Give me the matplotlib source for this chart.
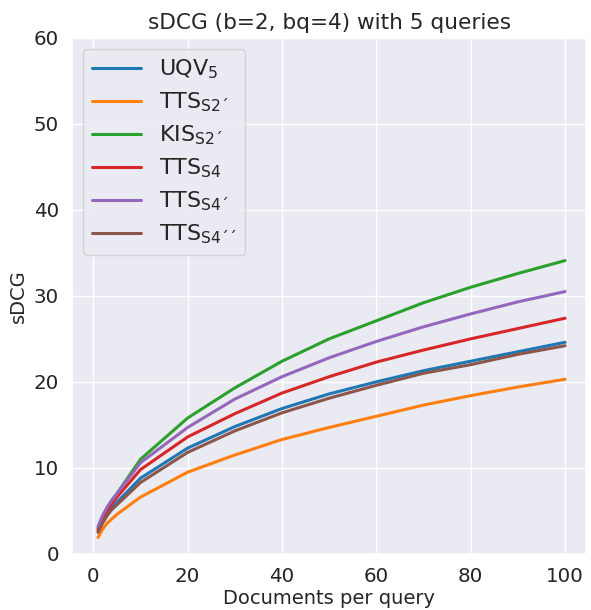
import matplotlib
matplotlib.use("Agg")
import matplotlib.pyplot as plt
import seaborn as sns

sns.set_theme(style="darkgrid", palette="tab10", font_scale=1.3)

docs = [1, 2, 3, 4, 5, 10, 20, 30, 40, 50, 60, 70, 80, 90, 100]

uqv5 = [2.6, 3.8, 4.7, 5.4, 6.0, 8.8, 12.3, 14.8, 16.9, 18.6, 20.0, 21.3, 22.4, 23.5, 24.6]
tts_s2p = [1.9, 2.9, 3.6, 4.1, 4.6, 6.6, 9.5, 11.5, 13.3, 14.7, 16.0, 17.3, 18.4, 19.4, 20.3]
kis_s2p = [3.0, 4.4, 5.4, 6.3, 7.0, 11.0, 15.8, 19.3, 22.4, 25.0, 27.1, 29.2, 31.0, 32.6, 34.1]
tts_s4 = [2.8, 4.1, 5.1, 5.9, 6.6, 9.8, 13.6, 16.3, 18.7, 20.6, 22.3, 23.7, 25.0, 26.2, 27.4]
tts_s4p = [3.2, 4.5, 5.5, 6.3, 7.0, 10.6, 14.7, 18.0, 20.6, 22.8, 24.7, 26.4, 27.9, 29.3, 30.5]
tts_s4pp = [2.5, 3.6, 4.5, 5.2, 5.7, 8.3, 11.8, 14.3, 16.4, 18.1, 19.6, 21.0, 22.0, 23.2, 24.2]

series = [
    (r"UQV$_5$", uqv5),
    (r"TTS$_{\mathrm{S2´}}$", tts_s2p),
    (r"KIS$_{\mathrm{S2´}}$", kis_s2p),
    (r"TTS$_{\mathrm{S4}}$", tts_s4),
    (r"TTS$_{\mathrm{S4´}}$", tts_s4p),
    (r"TTS$_{\mathrm{S4´´}}$", tts_s4pp),
]

fig = plt.figure(figsize=(5.91, 6.10), dpi=100)
ax = fig.add_axes([0.122, 0.092, 0.870, 0.846])

for label, vals in series:
    ax.plot(docs, vals, label=label, linewidth=2.2)

ax.set_ylim(0, 60)
ax.set_xlim(-4.5, 104.5)
ax.set_xticks([0, 20, 40, 60, 80, 100])
ax.set_title("sDCG (b=2, bq=4) with 5 queries")
ax.set_xlabel("Documents per query", fontsize=14, labelpad=2)
ax.set_ylabel("sDCG", fontsize=14)
ax.legend(loc="upper left", fontsize=16, handlelength=2.2, labelspacing=0.42)

fig.savefig("out.png", dpi=100)
